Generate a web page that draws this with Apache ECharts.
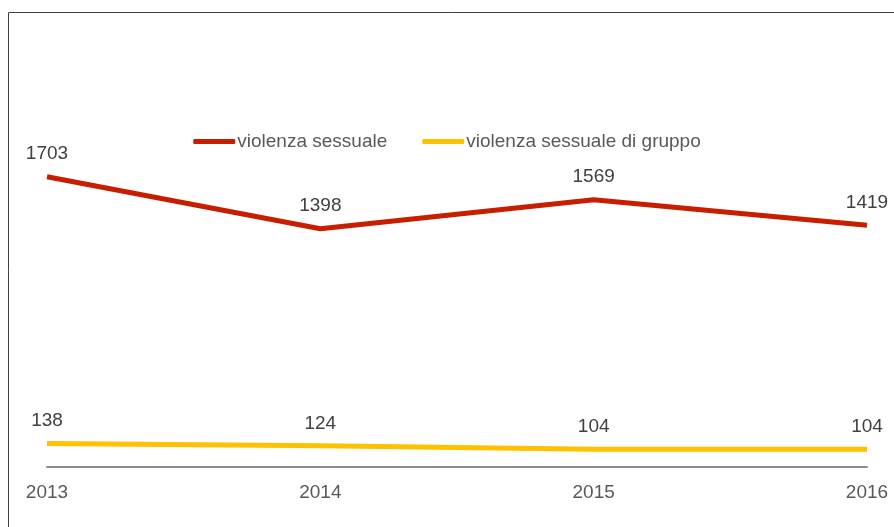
<!DOCTYPE html>
<html>
<head>
<meta charset="utf-8">
<style>
html, body { margin: 0; padding: 0; background: #fff; }
#chart { width: 894px; height: 527px; }
</style>
<script src="https://cdn.jsdelivr.net/npm/echarts@6/dist/echarts.min.js"></script>
</head>
<body>
<div id="chart"></div>
<script>
// dati
var anni = ['2013', '2014', '2015', '2016'];
var violenzaSessuale = [1703, 1398, 1569, 1419];
var violenzaGruppo = [138, 124, 104, 104];

var chart = echarts.init(document.getElementById('chart'));
var option = {
    backgroundColor: '#ffffff',
    animation: false,
    textStyle: { fontFamily: 'Liberation Sans, Arial, sans-serif' },
    graphic: [{
        type: 'rect',
        shape: { x: 8.5, y: 12.5, width: 1000, height: 1000 },
        style: { fill: 'none', stroke: '#404040', lineWidth: 1 },
        silent: true
    }],
    legend: {
        top: 127,
        left: 'center',
        itemGap: 35,
        itemWidth: 42,
        itemHeight: 5,
        icon: 'roundRect',
        textStyle: { fontSize: 19, color: '#595959', padding: [0, 0, 0, -3] },
        data: ['violenza sessuale', 'violenza sessuale di gruppo']
    },
    grid: { left: 47, right: 27, top: 41, bottom: 60, containLabel: false },
    xAxis: {
        type: 'category',
        boundaryGap: false,
        data: anni,
        axisLine: { lineStyle: { color: '#8c8c8c', width: 2 } },
        axisTick: { show: false },
        axisLabel: { color: '#595959', fontSize: 19, margin: 16 }
    },
    yAxis: {
        type: 'value',
        min: 0,
        max: 2500,
        show: false,
        splitLine: { show: false }
    },
    series: [
        {
            name: 'violenza sessuale',
            type: 'line',
            data: violenzaSessuale,
            symbol: 'circle',
            symbolSize: 0.1,
            color: '#c81e00',
            lineStyle: { color: '#c81e00', width: 5 },
            label: { show: true, position: 'top', distance: 13, fontSize: 19, color: '#404040' }
        },
        {
            name: 'violenza sessuale di gruppo',
            type: 'line',
            data: violenzaGruppo,
            symbol: 'circle',
            symbolSize: 0.1,
            color: '#ffc000',
            lineStyle: { color: '#ffc000', width: 5 },
            label: { show: true, position: 'top', distance: 13, fontSize: 19, color: '#404040' }
        }
    ]
};
chart.setOption(option);
</script>
</body>
</html>
